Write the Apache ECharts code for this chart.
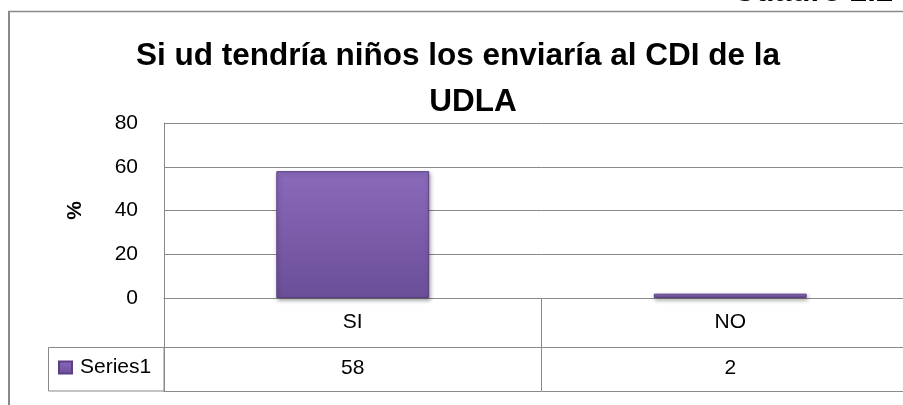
<!DOCTYPE html>
<html>
<head>
<meta charset="utf-8">
<script src="https://cdn.jsdelivr.net/npm/echarts@6/dist/echarts.min.js"></script>
<style>
html,body{margin:0;padding:0;overflow:hidden;background:#fff;width:903px;height:405px;}
#c{width:920px;height:405px;}
</style>
</head>
<body>
<div id="c"></div>
<script>
const titleLine1 = 'Si ud tendría niños los enviaría al CDI de la';
const titleLine2 = 'UDLA';
const captionText = 'Cuadro 2.2';
const categories = ['SI', 'NO'];
const values = [58, 2];
const seriesName = 'Series1';
const yAxisName = '%';
const yMin = 0, yMax = 80, yInterval = 20;

const FONT = '"Liberation Sans", Arial, sans-serif';
const GRID = '#898989';

const chart = echarts.init(document.getElementById('c'), null, {renderer: 'canvas'});

const barColor = new echarts.graphic.LinearGradient(0, 0, 0, 1, [
  {offset: 0, color: '#8a6abb'},
  {offset: 1, color: '#6b4e98'}
]);

const option = {
  animation: false,
  backgroundColor: '#fff',
  textStyle: {fontFamily: FONT},
  grid: [
    {left: 164, top: 123, width: 755, height: 175},
    {left: 164, top: 298, width: 755, height: 49},
    {left: 164, top: 347, width: 755, height: 44}
  ],
  xAxis: [
    {
      gridIndex: 0, type: 'category', data: categories,
      axisLine: {show: true, lineStyle: {color: GRID, width: 1}},
      axisTick: {show: false}, axisLabel: {show: false}, splitLine: {show: false}
    },
    {
      gridIndex: 1, type: 'category', data: categories, position: 'bottom',
      axisLine: {show: true, lineStyle: {color: GRID, width: 1}},
      axisTick: {show: false},
      splitLine: {show: true, lineStyle: {color: GRID, width: 1}},
      axisLabel: {inside: true, margin: 14, fontSize: 21, color: '#000', fontFamily: FONT}
    },
    {
      gridIndex: 2, type: 'category', data: categories, position: 'bottom',
      axisLine: {show: true, lineStyle: {color: GRID, width: 1}},
      axisTick: {show: false},
      splitLine: {show: true, lineStyle: {color: GRID, width: 1}},
      axisLabel: {inside: true, margin: 12, fontSize: 21, color: '#000', fontFamily: FONT,
        formatter: function (v, i) { return String(values[i]); }}
    }
  ],
  yAxis: [
    {
      gridIndex: 0, type: 'value', min: yMin, max: yMax, interval: yInterval,
      name: yAxisName, nameLocation: 'middle', nameGap: 78, nameRotate: 90,
      nameTextStyle: {fontSize: 21, fontWeight: 'bold', color: '#000', fontFamily: FONT},
      axisLine: {show: true, lineStyle: {color: GRID, width: 1}},
      axisTick: {show: false},
      axisLabel: {fontSize: 21, color: '#000', margin: 26, fontFamily: FONT},
      splitLine: {show: true, lineStyle: {color: GRID, width: 1}}
    },
    {
      gridIndex: 1, type: 'value', min: 0, max: 1,
      axisLine: {show: true, lineStyle: {color: GRID, width: 1}},
      axisTick: {show: false}, axisLabel: {show: false}, splitLine: {show: false}
    },
    {
      gridIndex: 2, type: 'value', min: 0, max: 1,
      axisLine: {show: true, lineStyle: {color: GRID, width: 1}},
      axisTick: {show: false}, axisLabel: {show: false}, splitLine: {show: false}
    }
  ],
  legend: {
    left: 58, top: 357, padding: 0,
    icon: 'rect', itemWidth: 13, itemHeight: 12, itemGap: 6,
    textStyle: {fontSize: 21, color: '#000', fontFamily: FONT, padding: [0, 0, 0, 3]},
    data: [seriesName]
  },
  series: [
    {
      name: seriesName, type: 'bar', xAxisIndex: 0, yAxisIndex: 0,
      data: values, barWidth: '40.5%',
      itemStyle: {
        color: barColor, borderColor: '#5a3f85', borderWidth: 1,
        shadowColor: 'rgba(0,0,0,0.35)', shadowBlur: 4, shadowOffsetX: 1, shadowOffsetY: 2
      },
      emphasis: {disabled: true}
    }
  ],
  graphic: [
    {type: 'line', shape: {x1: 9, y1: 11, x2: 9, y2: 405}, style: {stroke: GRID, lineWidth: 2}, silent: true},
    {type: 'line', shape: {x1: 8, y1: 11.5, x2: 920, y2: 11.5}, style: {stroke: GRID, lineWidth: 1.5}, silent: true},
    {type: 'rect', shape: {x: 48.5, y: 347.5, width: 115.5, height: 43.5}, style: {fill: 'none', stroke: GRID, lineWidth: 1}, silent: true},
    {type: 'text', x: 733, y: -8, style: {text: captionText, font: 'bold 31px ' + FONT, fill: '#000', verticalAlign: 'middle'}, silent: true},
    {type: 'text', x: 458, y: 56, style: {text: titleLine1, font: 'bold 31.5px ' + FONT, fill: '#000', align: 'center', verticalAlign: 'middle'}, silent: true},
    {type: 'text', x: 473, y: 102, style: {text: titleLine2, font: 'bold 31.5px ' + FONT, fill: '#000', align: 'center', verticalAlign: 'middle'}, silent: true}
  ]
};
chart.setOption(option);
</script>
</body>
</html>
